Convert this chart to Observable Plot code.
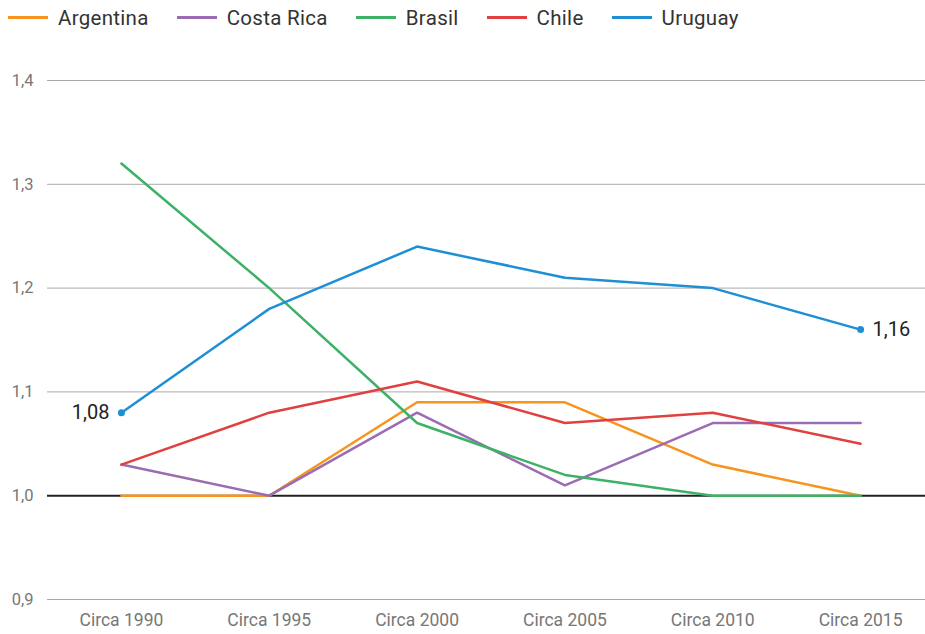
<!DOCTYPE html>
<html>
<head>
<meta charset="utf-8">
<script src="https://cdn.jsdelivr.net/npm/d3@7"></script>
<script src="https://cdn.jsdelivr.net/npm/@observablehq/plot@0.6"></script>
<style>
  body { margin: 0; background: #fff; font-family: Roboto, "DejaVu Sans", sans-serif; }
  #legend { display: flex; align-items: center; height: 35px; padding-left: 8px; box-sizing: border-box; }
  .item { display: flex; align-items: center; margin-right: 28px; font-size: 20.5px; color: #333; letter-spacing: 0.3px; }
  .sw { width: 40px; height: 3px; margin-right: 10px; }
</style>
</head>
<body>
<div id="legend"></div>
<div id="chart"></div>
<script>
const periods = ["Circa 1990", "Circa 1995", "Circa 2000", "Circa 2005", "Circa 2010", "Circa 2015"];
const countries = ["Argentina", "Costa Rica", "Brasil", "Chile", "Uruguay"];
const colors = ["#F7941D", "#9B6BB3", "#3DB166", "#E0403F", "#1E8FD5"];
const argentina = [1.00, 1.00, 1.09, 1.09, 1.03, 1.00];
const costaRica = [1.03, 1.00, 1.08, 1.01, 1.07, 1.07];
const brasil    = [1.32, 1.20, 1.07, 1.02, 1.00, 1.00];
const chile     = [1.03, 1.08, 1.11, 1.07, 1.08, 1.05];
const uruguay   = [1.08, 1.18, 1.24, 1.21, 1.20, 1.16];
const yTicks = [0.9, 1.0, 1.1, 1.2, 1.3, 1.4];

const series = [argentina, costaRica, brasil, chile, uruguay];
const data = [];
series.forEach((vals, i) => vals.forEach((v, j) => data.push({country: countries[i], period: periods[j], value: v})));
const uru = data.filter(d => d.country === "Uruguay");
const labeled = [uru[0], uru[uru.length - 1]];
const fmt = d3.format(".2f");
const fmt1 = d3.format(".1f");
const comma = s => s.replace(".", ",");

const legend = document.getElementById("legend");
countries.forEach((c, i) => {
  const it = document.createElement("div");
  it.className = "item";
  it.innerHTML = `<div class="sw" style="background:${colors[i]}"></div><span>${c}</span>`;
  legend.appendChild(it);
});

const plot = Plot.plot({
  width: 925,
  height: 599,
  marginLeft: 47,
  marginRight: -9,
  marginTop: 45,
  marginBottom: 35,
  style: { fontFamily: "Roboto, 'DejaVu Sans', sans-serif", fontSize: "17px", color: "#777", background: "#fff" },
  x: { type: "point", domain: periods, padding: 0.5, round: false, label: null },
  y: { domain: [0.9, 1.4], label: null },
  color: { domain: countries, range: colors },
  marks: [
    Plot.ruleY(yTicks.filter(t => t !== 1.0), { stroke: "#aaa", strokeWidth: 1 }),
    Plot.ruleY([1.0], { stroke: "#222", strokeWidth: 2 }),
    Plot.axisY(yTicks, { tickSize: 0, tickPadding: 14, tickFormat: d => comma(fmt1(d)), fill: "#777", fontSize: 16.5 }),
    Plot.axisX({ tickSize: 0, tickPadding: 14, fill: "#777", fontSize: 17.5 }),
    Plot.line(data, { x: "period", y: "value", z: "country", stroke: "country", strokeWidth: 2.5 }),
    Plot.dot(labeled, { x: "period", y: "value", fill: "#1E8FD5", r: 3.5 }),
    Plot.text([labeled[0]], { x: "period", y: "value", text: d => comma(fmt(d.value)), textAnchor: "end", dx: -12, fontSize: 20, fill: "#222" }),
    Plot.text([labeled[1]], { x: "period", y: "value", text: d => comma(fmt(d.value)), textAnchor: "start", dx: 12, fontSize: 20, fill: "#222" })
  ]
});
document.getElementById("chart").appendChild(plot);
</script>
</body>
</html>
